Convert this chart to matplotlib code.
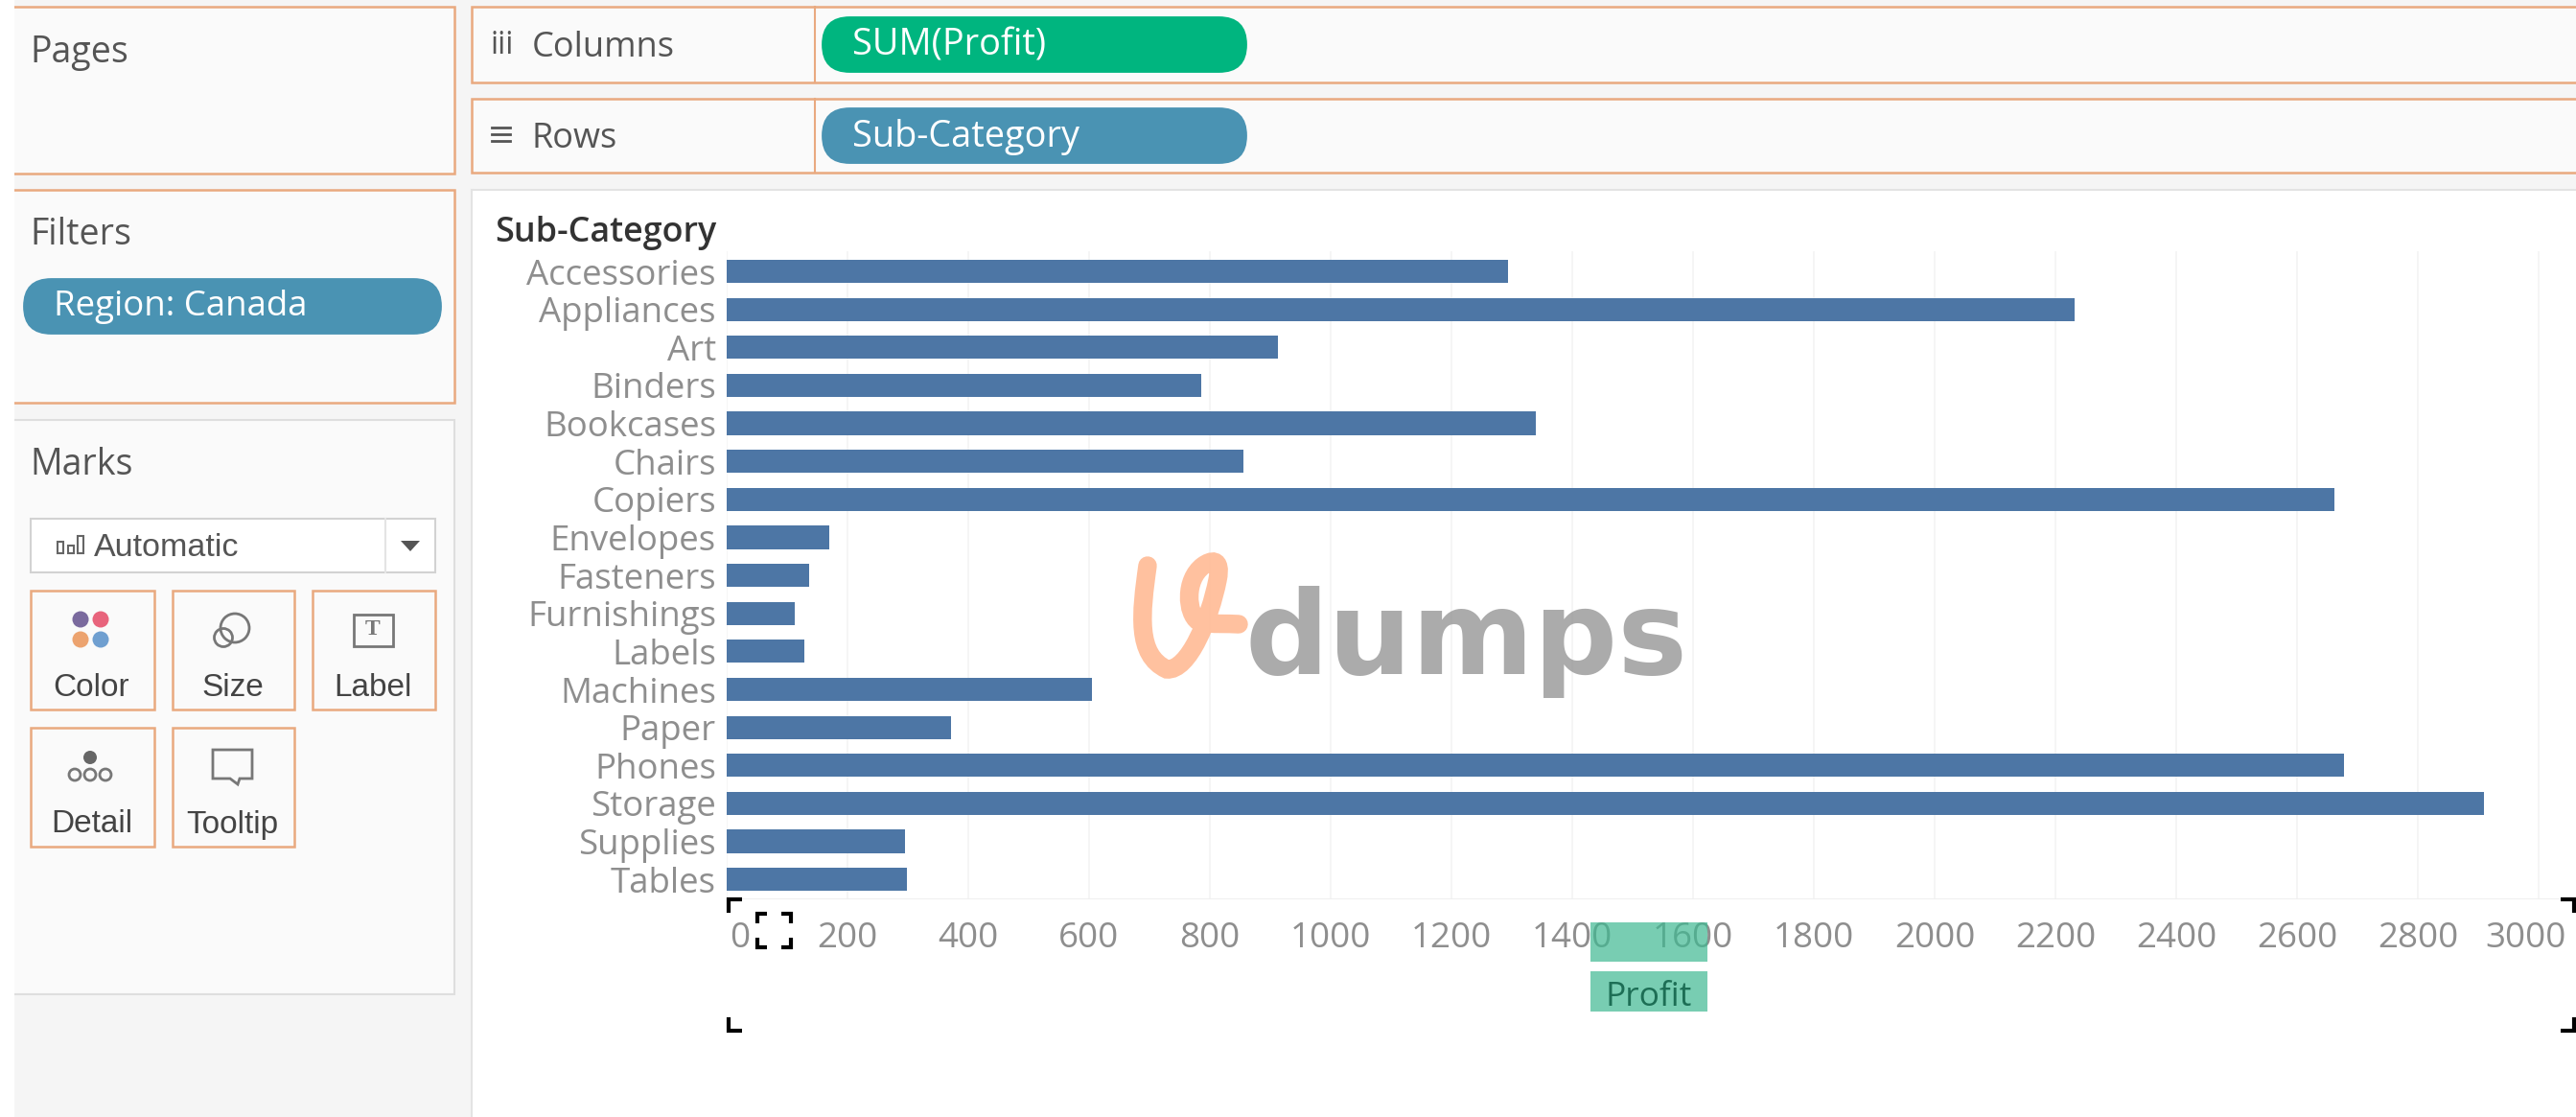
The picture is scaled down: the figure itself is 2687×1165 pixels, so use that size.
import matplotlib
matplotlib.use("Agg")
import matplotlib.pyplot as plt
from matplotlib.patches import Rectangle, FancyBboxPatch, Circle, Polygon, PathPatch
from matplotlib.path import Path
from matplotlib.transforms import ScaledTranslation

# ---- data ----
sub_categories = ["Accessories", "Appliances", "Art", "Binders", "Bookcases", "Chairs",
                  "Copiers", "Envelopes", "Fasteners", "Furnishings", "Labels", "Machines",
                  "Paper", "Phones", "Storage", "Supplies", "Tables"]
profit = [1294, 2231, 912, 785, 1340, 856, 2662, 170, 137, 112, 129, 605, 372, 2678, 2910, 296, 299]
x_ticks = list(range(0, 3001, 200))
card_labels = ["Color", "Size", "Label", "Detail", "Tooltip"]

W, H = 2687, 1165
FONT = "Open Sans"
UI = "Liberation Sans"
ORANGE = "#e9a97f"
fig = plt.figure(figsize=(W / 100, H / 100), dpi=100, facecolor="white")

# ---- interface chrome, in pixel coordinates ----
bg = fig.add_axes([0, 0, 1, 1], zorder=0)
bg.set_xlim(0, W); bg.set_ylim(H, 0); bg.axis("off")


def rect(ax, x0, y0, x1, y1, fc="none", ec="none", lw=1.0, z=1, alpha=None):
    ax.add_patch(Rectangle((x0, y0), x1 - x0, y1 - y0, fc=fc, ec=ec, lw=lw, zorder=z, alpha=alpha))


def pill(x0, y0, x1, y1, color, label, size=27.3):
    r = (y1 - y0) / 2
    bg.add_patch(FancyBboxPatch((x0 + r, y0 + r), x1 - x0 - 2 * r, 0.01,
                                boxstyle=f"round,pad={r - 0.1},rounding_size={r - 0.1}",
                                fc=color, ec="none", zorder=3))
    bg.text(x0 + 32, (y0 + y1) / 2 + 1, label, color="white", fontsize=size, family=FONT, va="center", ha="left", zorder=4)


rect(bg, 15, 0, W, H, fc="#f5f5f5", z=0)
rect(bg, 492, 198, W, H, fc="white", z=1)
bg.plot([492, 492], [198, H], color="#e3e3e3", lw=1.5, zorder=2)
bg.plot([492, W], [198, 198], color="#e3e3e3", lw=1.5, zorder=2)

for x0, y0, x1, y1 in [(5, 7, 474, 181), (492, 7, W + 5, 86), (492, 103, W + 5, 180), (5, 198, 474, 420)]:
    rect(bg, x0, y0, x1, y1, fc="#fafafa", ec=ORANGE, lw=1.8, z=2)
rect(bg, 5, 438, 474, 1037, fc="#fafafa", ec="#dedede", lw=1.5, z=2)
rect(bg, 0, 0, 15, H, fc="white", z=2.5)
bg.plot([850, 850], [7, 86], color=ORANGE, lw=1.5, zorder=3)
bg.plot([850, 850], [103, 180], color=ORANGE, lw=1.5, zorder=3)

for label, x, y in [("Pages", 31, 55), ("Filters", 31, 245), ("Marks", 31, 485)]:
    bg.text(x, y, label, fontsize=27, family=FONT, color="#555555", va="center", ha="left", zorder=4)
bg.text(555, 50, "Columns", fontsize=26, family=FONT, color="#555555", va="center", zorder=4)
bg.text(555, 145, "Rows", fontsize=26, family=FONT, color="#555555", va="center", zorder=4)
bg.text(512, 48, "iii", fontsize=23, family=FONT, color="#555555", va="center", zorder=4)
for yy in (133, 140, 147):
    bg.plot([513, 532], [yy, yy], color="#555555", lw=2, zorder=4)

pill(857, 17, 1301, 76, "#00b57f", "SUM(Profit)")
pill(857, 112, 1301, 171, "#4a93b3", "Sub-Category")
pill(24, 290, 461, 349, "#4a93b3", "Region: Canada", size=26.4)

# Marks card
rect(bg, 32, 541, 454, 597, fc="white", ec="#d2d2d2", lw=1.5, z=3)
bg.plot([402, 402], [541, 597], color="#e4e4e4", lw=1.5, zorder=4)
bg.add_patch(Polygon([[418, 564], [438, 564], [428, 575]], fc="#555555", ec="none", zorder=4))
for bx, bh in [(60, 12), (71, 8), (81, 18)]:
    rect(bg, bx, 577 - bh, bx + 6, 577, ec="#666666", lw=1.5, z=4)
bg.text(98, 571, "Automatic", fontsize=24.5, family=UI, color="#555555", va="center", zorder=4)

cards = [(32, 616, 161, 740), (180, 616, 307, 740), (326, 616, 454, 740), (32, 759, 161, 883), (180, 759, 307, 883)]
for (x0, y0, x1, y1), label in zip(cards, card_labels):
    rect(bg, x0, y0, x1, y1, fc="#fafafa", ec=ORANGE, lw=1.8, z=3)
    bg.text((x0 + x1) / 2 - 1, y0 + 101, label, fontsize=24, family=UI, color="#444444", va="center", ha="center", zorder=4)

for cx, cy, c in [(84, 646, "#7a6a9e"), (105, 646, "#e8647c"), (84, 667, "#eca36f"), (105, 667, "#6f9fd0")]:
    bg.add_patch(Circle((cx, cy), 8.5, fc=c, ec="none", zorder=4))
bg.add_patch(Circle((233, 665), 9.5, fc="none", ec="#777777", lw=2, zorder=4))
bg.add_patch(Circle((245, 655), 15, fc="none", ec="#777777", lw=2, zorder=4))
rect(bg, 369, 641, 410, 674, fc="none", ec="#777777", lw=2, z=4)
bg.text(389, 657, "T", fontsize=17, family="Liberation Serif", weight="bold", color="#777777", ha="center", va="center", zorder=5)
bg.add_patch(Circle((94, 790), 7, fc="#666666", ec="none", zorder=4))
for cx in (78, 94, 110):
    bg.add_patch(Circle((cx, 808), 6, fc="none", ec="#777777", lw=2, zorder=4))
bg.add_patch(Polygon([[222, 782], [263, 782], [263, 812], [250, 812], [248, 818], [240, 812], [222, 812]],
                     closed=True, fc="none", ec="#777777", lw=2, zorder=4))

# ---- chart ----
px_per_unit = 0.63
x0_px, top_px, bottom_px = 758, 262, 937
ax = fig.add_axes([x0_px / W, 1 - bottom_px / H, (W - x0_px) / W, (bottom_px - top_px) / H], zorder=2)
ax.patch.set_alpha(0)
ax.barh(sub_categories, profit, height=0.61, color="#4d76a5", zorder=3)
ax.set_xlim(0, (W - x0_px) / px_per_unit)
ax.set_ylim(16.5, -0.53)
ax.set_xticks(x_ticks)
ax.set_xticklabels([str(v) for v in x_ticks])
ax.grid(axis="x", color="#f3f3f3", lw=1.2, zorder=0)
ax.set_axisbelow(True)
for name, sp in ax.spines.items():
    sp.set_visible(name == "bottom")
ax.spines["bottom"].set_color("#f0f0f0")
ax.tick_params(axis="x", length=0, pad=17.5, labelsize=26.5, labelcolor="#8e8e8e")
ax.tick_params(axis="y", length=0, pad=8, labelsize=26.4, labelcolor="#8e8e8e")
for t in ax.get_xticklabels() + ax.get_yticklabels():
    t.set_family(FONT)
labels = ax.get_xticklabels()
labels[0].set_transform(labels[0].get_transform() + ScaledTranslation(14 / 100, 0, fig.dpi_scale_trans))
labels[-1].set_transform(labels[-1].get_transform() + ScaledTranslation(-13 / 100, 0, fig.dpi_scale_trans))

# ---- overlay: header, selection marks, highlights, watermark ----
ov = fig.add_axes([0, 0, 1, 1], zorder=3)
ov.set_xlim(0, W); ov.set_ylim(H, 0); ov.axis("off"); ov.patch.set_alpha(0)

ov.text(747, 243, "Sub-Category", fontsize=25.8, family=FONT, weight="semibold", color="#333333", ha="right", va="center")

rect(ov, 1659, 962, 1781, 1003, fc="#3fb992", alpha=0.7, z=3)
rect(ov, 1659, 1013, 1781, 1055, fc="#3fb992", alpha=0.7, z=3)
ov.text(1720, 1040, "Profit", fontsize=25.5, family=FONT, weight="medium", color="#1d6e55", ha="center", va="center", zorder=4)


def corner(x, y, dx, dy, size=14, lw=3.0):
    ov.plot([x + dx * size, x, x], [y, y, y + dy * size], color="black", lw=lw,
            solid_joinstyle="miter", solid_capstyle="butt", zorder=5)


corner(760, 938, 1, 1); corner(760, 1075, 1, -1)
corner(2685, 938, -1, 1); corner(2685, 1075, -1, -1)
for sx, dx in [(790, 1), (825, -1)]:
    corner(sx, 953, dx, 1, size=10); corner(sx, 988, dx, -1, size=10)

# vdumps logo
verts = [(1197, 590), (1190, 640), (1185, 683), (1217, 698),
         (1240, 700), (1262, 645), (1270, 605),
         (1275, 580), (1262, 585), (1255, 590),
         (1235, 605), (1238, 640), (1250, 648),
         (1265, 652), (1280, 650), (1292, 651)]
codes = [Path.MOVETO] + [Path.CURVE4] * 15
ov.add_patch(PathPatch(Path(verts, codes), fc="none", ec="#ffbe9a", lw=14, capstyle="round", alpha=0.95, zorder=6))
ov.text(1298, 703, "dumps", fontsize=88, family="DejaVu Sans", weight="bold", color="#8f8f8f", alpha=0.75,
        ha="left", va="baseline", zorder=6)

fig.savefig("out.png", dpi=100)
